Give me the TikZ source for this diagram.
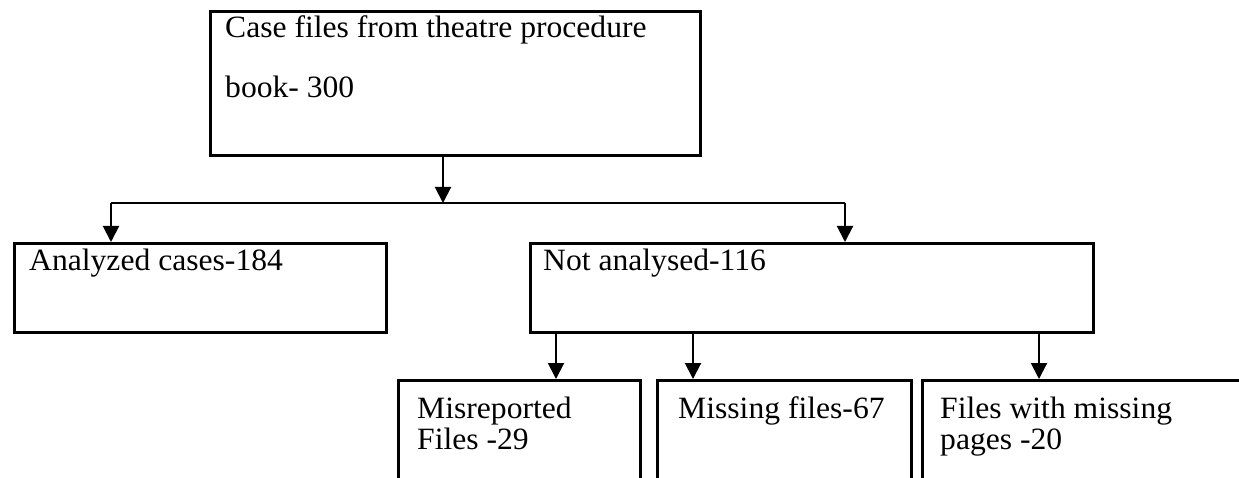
\documentclass[tikz,border=0pt]{standalone}
\usepackage{fontspec}
\setmainfont{Liberation Serif}
\usetikzlibrary{arrows.meta}
\newcommand{\wtxt}[1]{\scalebox{1.02}[1]{#1}}
\tikzset{
  boxnode/.style={draw=black, line width=2.6pt, rectangle, inner sep=0pt, anchor=north west},
  lbl/.style={anchor=base west, inner sep=0pt, font=\fontsize{31}{34}\selectfont},
  conn/.style={draw=black, line width=2pt},
  arr/.style={conn, -{Triangle[width=16pt,length=16pt]}}
}
\begin{document}
\begin{tikzpicture}[x=1pt, y=-1pt]
\useasboundingbox (0,0) rectangle (1239,478);
\clip (0,0) rectangle (1239,478);
\fill[white] (0,0) rectangle (1239,478);
% boxes
\node[boxnode, minimum width=490pt, minimum height=144pt] (top) at (209,10) {};
\node[boxnode, minimum width=372pt, minimum height=89pt] (ana) at (13,242) {};
\node[boxnode, minimum width=563pt, minimum height=89pt] (nota) at (529,242) {};
\node[boxnode, minimum width=242pt, minimum height=140pt] (mis) at (397,379) {};
\node[boxnode, minimum width=254pt, minimum height=140pt] (miss) at (656,379) {};
\node[boxnode, minimum width=360pt, minimum height=140pt] (pages) at (921,379) {};
% texts
\node[lbl] (t1) at (225,38) {\wtxt{Case files from theatre procedure}};
\node[lbl] (t2) at (225,98) {\wtxt{book- 300}};
\node[lbl] (t3) at (29,271) {\wtxt{Analyzed cases-184}};
\node[lbl] (t4) at (543,271) {\wtxt{Not analysed-116}};
\node[lbl] (t5) at (417,418) {\wtxt{Misreported}};
\node[lbl] (t6) at (417,449) {\wtxt{Files -29}};
\node[lbl] (t7) at (678,418) {\wtxt{Missing files-67}};
\node[lbl] (t8) at (940,418) {\wtxt{Files with missing}};
\node[lbl] (t9) at (940,449) {\wtxt{pages -20}};
% junction coordinates
\coordinate (jc) at (443,203);
\coordinate (jl) at (111,203);
\coordinate (jr) at (845,203);
\coordinate (b1) at (556,0);
\coordinate (b2) at (693,0);
\coordinate (b3) at (1039,0);
% connectors
\draw[arr] (jc |- top.south) -- (jc);
\draw[conn, line width=1.8pt] (jl) -- (jr);
\draw[arr] (jl) -- (jl |- ana.north);
\draw[arr] (jr) -- (jr |- nota.north);
\draw[arr] (b1 |- nota.south) -- (b1 |- mis.north);
\draw[arr] (b2 |- nota.south) -- (b2 |- miss.north);
\draw[arr] (b3 |- nota.south) -- (b3 |- pages.north);
\end{tikzpicture}
\end{document}
